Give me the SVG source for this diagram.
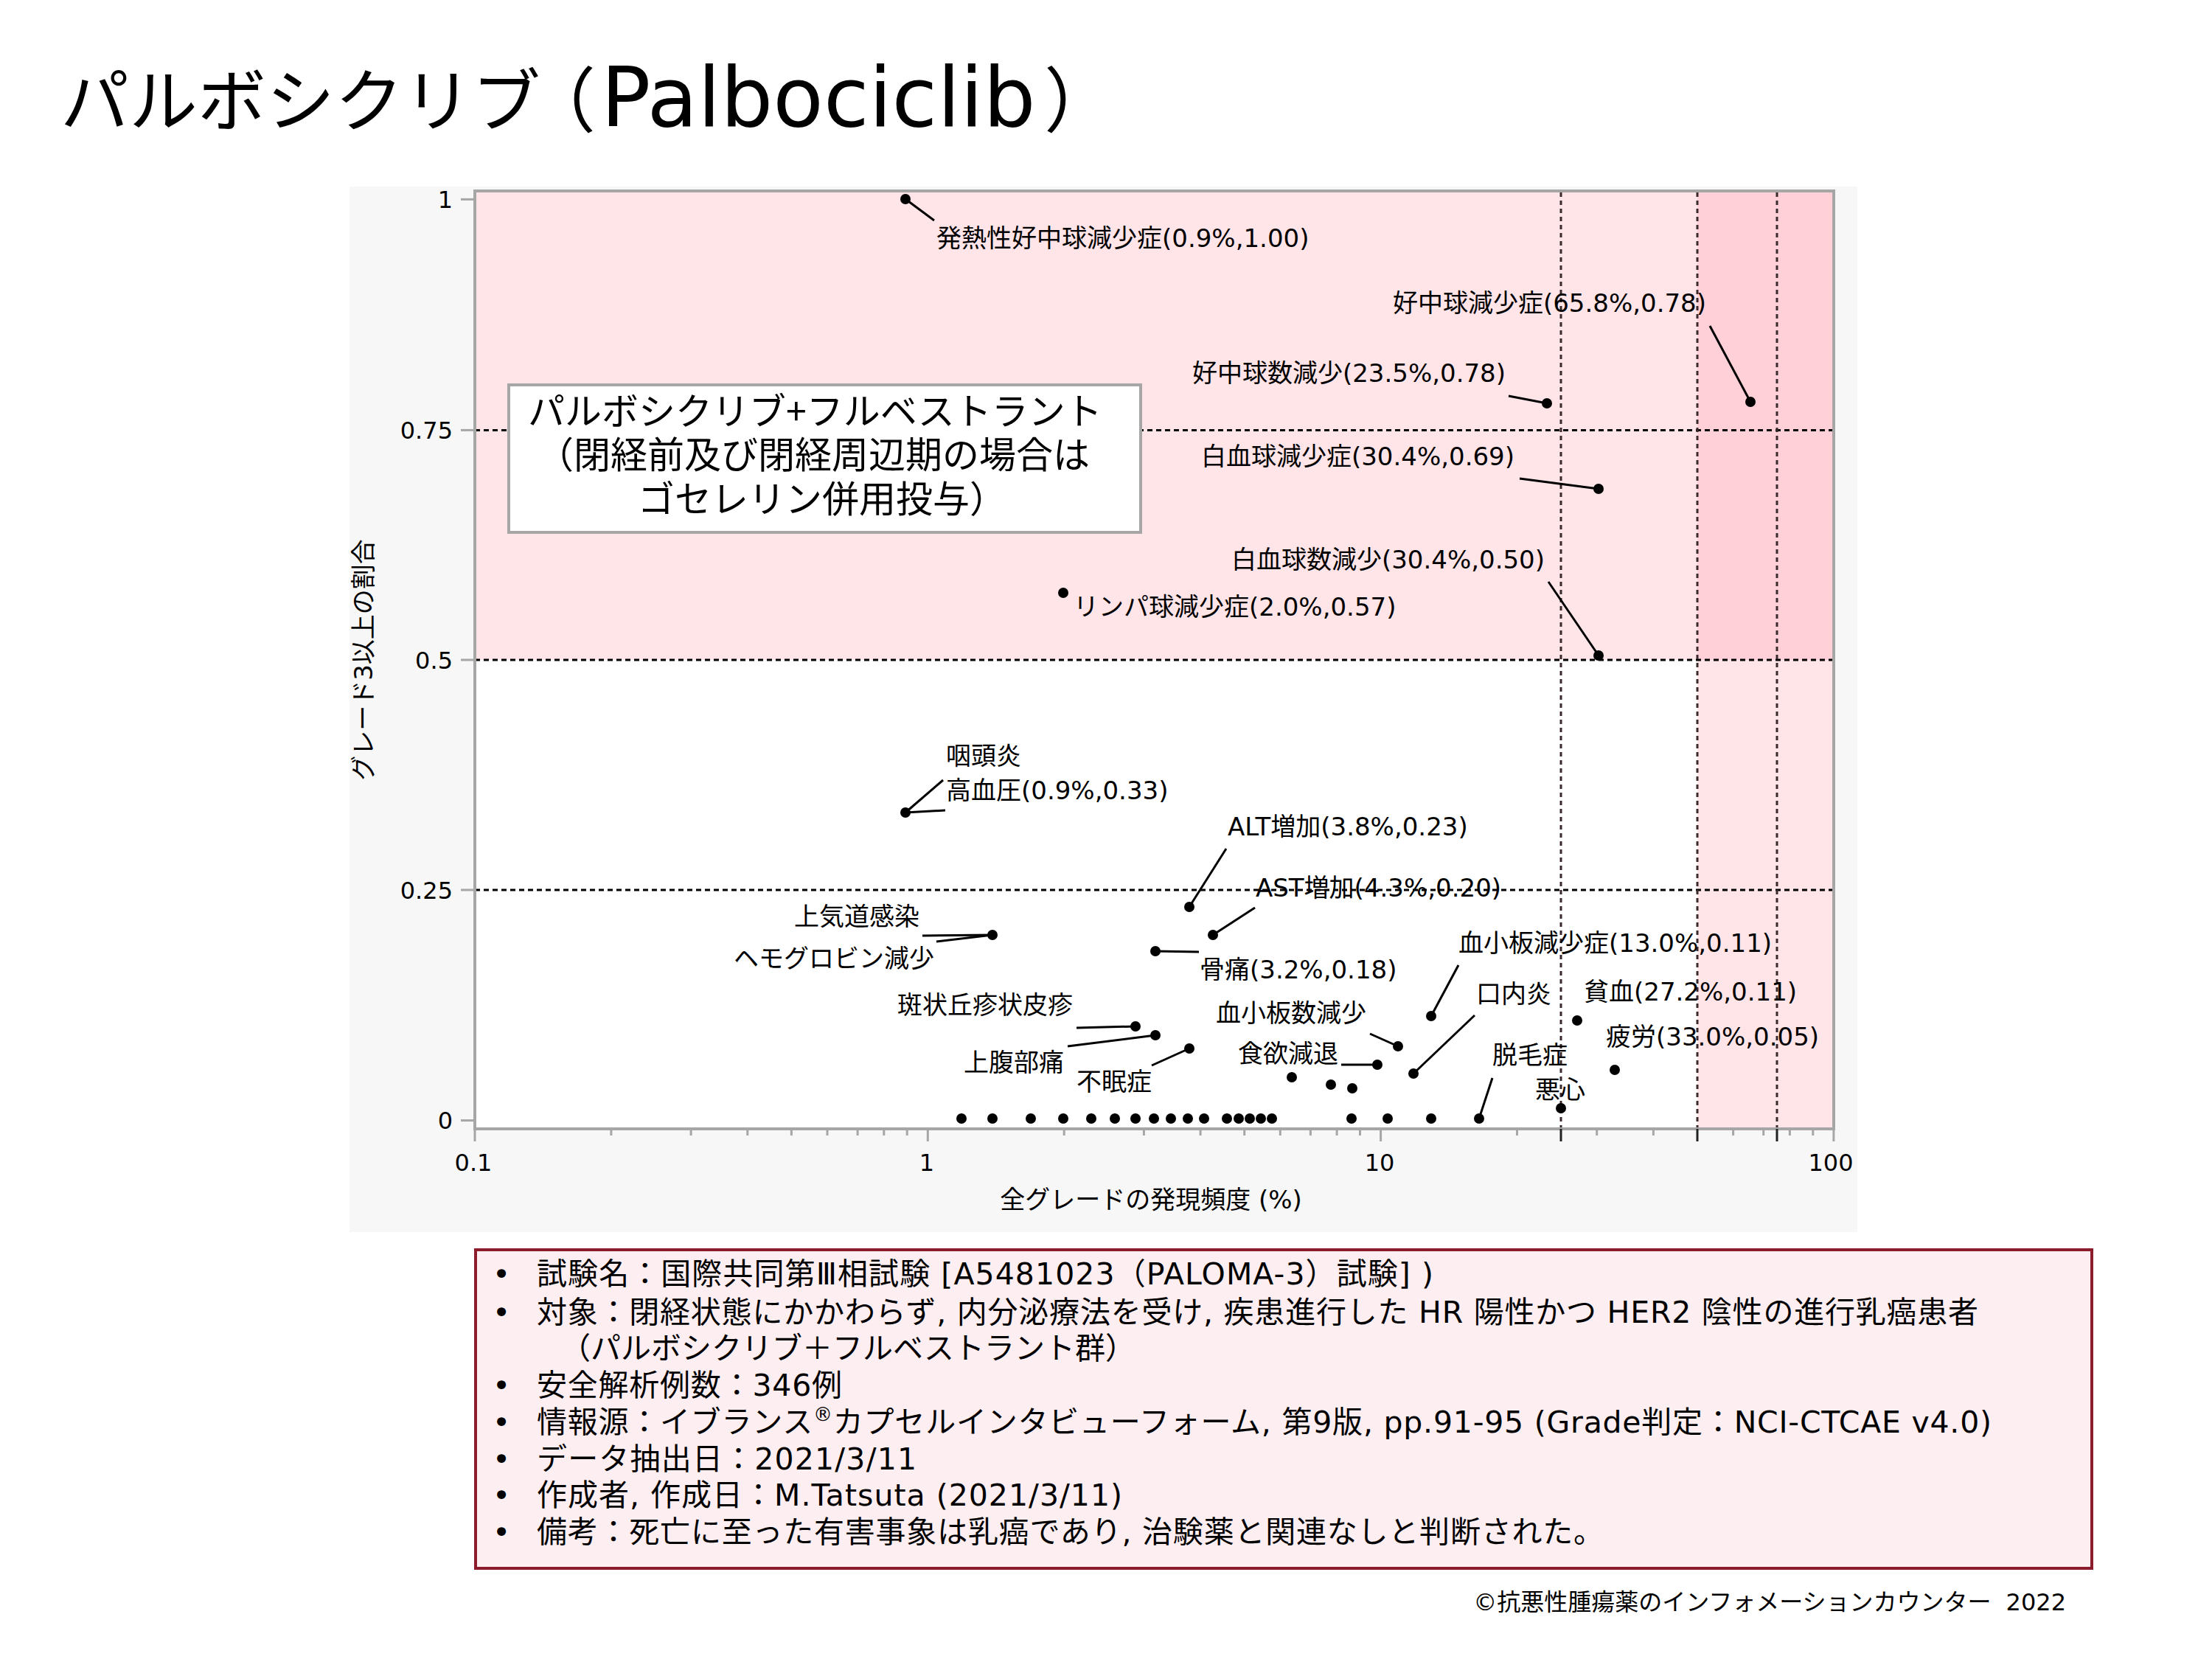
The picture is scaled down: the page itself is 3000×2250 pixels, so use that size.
<svg xmlns="http://www.w3.org/2000/svg" width="3000" height="2250" viewBox="0 0 3000 2250">
<style>
.cjk{font-family:"Noto Sans CJK JP","Noto Sans CJK SC",sans-serif;fill:#000}
.lat{font-family:"DejaVu Sans","Noto Sans CJK JP",sans-serif;fill:#000}
.lbl{font-family:"DejaVu Sans","Noto Sans CJK JP",sans-serif;font-size:34px;fill:#000}
.tick{font-family:"DejaVu Sans","Noto Sans CJK JP",sans-serif;font-size:32px;fill:#000}
.ax{font-family:"DejaVu Sans","Noto Sans CJK JP",sans-serif;font-size:34px;fill:#000}
.box{font-family:"DejaVu Sans","Noto Sans CJK JP",sans-serif;font-size:41px;fill:#000}
.ann{font-family:"Noto Sans CJK JP","DejaVu Sans",sans-serif;font-size:50px;fill:#000}
.ld{stroke:#000;stroke-width:3;fill:none}
.dot{fill:#000}
.hgrid{stroke:#000;stroke-width:3;stroke-dasharray:7 5;fill:none}
.vgrid{stroke:#3a2a2e;stroke-width:3;stroke-dasharray:6 5;fill:none}
.gt{stroke:#a6a6a6;stroke-width:3;fill:none}
.dt{stroke:#222;stroke-width:3;fill:none}
</style>

<!-- Title -->
<g id="title">
<text y="171"><tspan class="cjk" x="82" font-size="93">パルボシクリブ</tspan><tspan class="cjk" x="712" font-size="96">（</tspan><tspan class="lat" x="815" font-size="112">Palbociclib</tspan><tspan class="cjk" x="1416" font-size="96">）</tspan></text>
</g>

<!-- Chart background and plot area -->
<g id="chart-bg">
<rect x="474" y="253" width="2045" height="1418" fill="#f7f7f7"/>
<rect x="644" y="259" width="1843" height="1272" fill="#ffffff"/>
<rect x="644" y="259" width="1658" height="636" fill="#ffe4e8"/>
<rect x="2302" y="259" width="185" height="636" fill="#ffd0d8"/>
<rect x="2302" y="895" width="185" height="636" fill="#ffe4e8"/>
</g>

<!-- Grid lines -->
<g id="grid">
<line class="hgrid" x1="644" y1="583.4" x2="2487" y2="583.4"/>
<line class="hgrid" x1="644" y1="895" x2="2487" y2="895"/>
<line class="hgrid" x1="644" y1="1207" x2="2487" y2="1207"/>
<line class="vgrid" x1="2117" y1="261" x2="2117" y2="1529"/>
<line class="vgrid" x1="2302" y1="261" x2="2302" y2="1529"/>
<line class="vgrid" x1="2410" y1="261" x2="2410" y2="1529"/>
</g>

<!-- Frame and axes -->
<g id="axes">
<rect x="644" y="259" width="1843" height="1272" fill="none" stroke="#a6a6a6" stroke-width="4"/>
<line class="gt" x1="625" y1="270.4" x2="644" y2="270.4"/>
<line class="gt" x1="625" y1="583.4" x2="644" y2="583.4"/>
<line class="gt" x1="625" y1="895" x2="644" y2="895"/>
<line class="gt" x1="625" y1="1207" x2="644" y2="1207"/>
<line class="gt" x1="625" y1="1519.6" x2="644" y2="1519.6"/>
<line class="gt" x1="644" y1="1531" x2="644" y2="1548"/>
<line class="gt" x1="1258.3" y1="1531" x2="1258.3" y2="1548"/>
<line class="gt" x1="1872.6" y1="1531" x2="1872.6" y2="1548"/>
<line class="gt" x1="2486.9" y1="1531" x2="2486.9" y2="1548"/>
<path class="gt" d="M828.9 1531v9M937.1 1531v9M1013.8 1531v9M1073.4 1531v9M1122 1531v9M1163.1 1531v9M1198.8 1531v9M1230.2 1531v9M1443.2 1531v9M1551.4 1531v9M1628.1 1531v9M1687.7 1531v9M1736.3 1531v9M1777.4 1531v9M1813.1 1531v9M1844.5 1531v9M2057.5 1531v9M2165.7 1531v9M2242.4 1531v9M2350.6 1531v9M2391.7 1531v9M2427.4 1531v9M2458.8 1531v9"/>
<line class="dt" x1="2117" y1="1531" x2="2117" y2="1548"/>
<line class="dt" x1="2302" y1="1531" x2="2302" y2="1548"/>
<line class="dt" x1="2410" y1="1531" x2="2410" y2="1548"/>
<text class="tick" x="614" y="282" text-anchor="end">1</text>
<text class="tick" x="614" y="595" text-anchor="end">0.75</text>
<text class="tick" x="614" y="906.5" text-anchor="end">0.5</text>
<text class="tick" x="614" y="1218.5" text-anchor="end">0.25</text>
<text class="tick" x="614" y="1531" text-anchor="end">0</text>
<text class="tick" x="642" y="1588" text-anchor="middle">0.1</text>
<text class="tick" x="1257" y="1588" text-anchor="middle">1</text>
<text class="tick" x="1871" y="1588" text-anchor="middle">10</text>
<text class="tick" x="2483" y="1588" text-anchor="middle">100</text>
<text class="ax" x="1561" y="1639" text-anchor="middle">全グレードの発現頻度 (%)</text>
<text class="ax" transform="translate(505,895) rotate(-90)" text-anchor="middle">グレード3以上の割合</text>
</g>

<!-- Annotation box -->
<g id="regimen-box">
<rect x="690" y="522" width="857" height="200" fill="#ffffff" stroke="#a6a6a6" stroke-width="4"/>
<text class="ann"><tspan x="716" y="576">パルボシクリブ+フルベストラント</tspan><tspan x="728" y="635">（閉経前及び閉経周辺期の場合は</tspan><tspan x="865" y="695">ゴセレリン併用投与）</tspan></text>
</g>

<!-- Connectors (leader lines) -->
<g id="connectors">
<line class="ld" x1="1228" y1="270" x2="1267" y2="299"/>
<line class="ld" x1="2374" y1="545" x2="2319" y2="442"/>
<line class="ld" x1="2098" y1="547" x2="2046" y2="537"/>
<line class="ld" x1="2168" y1="663" x2="2061" y2="649"/>
<line class="ld" x1="2168" y1="889" x2="2100" y2="789"/>
<line class="ld" x1="1228" y1="1102" x2="1279" y2="1058"/>
<line class="ld" x1="1228" y1="1102" x2="1282" y2="1099"/>
<line class="ld" x1="1346" y1="1268" x2="1251" y2="1269"/>
<line class="ld" x1="1346" y1="1268" x2="1270" y2="1277"/>
<line class="ld" x1="1540" y1="1392" x2="1460" y2="1394"/>
<line class="ld" x1="1567" y1="1404" x2="1448" y2="1419"/>
<line class="ld" x1="1613" y1="1422" x2="1562" y2="1445"/>
<line class="ld" x1="1613" y1="1230" x2="1663" y2="1151"/>
<line class="ld" x1="1645" y1="1268" x2="1702" y2="1231"/>
<line class="ld" x1="1567" y1="1290" x2="1626" y2="1291"/>
<line class="ld" x1="1941" y1="1378" x2="1978" y2="1309"/>
<line class="ld" x1="1896" y1="1419" x2="1858" y2="1402"/>
<line class="ld" x1="1917" y1="1456" x2="2000" y2="1377"/>
<line class="ld" x1="1868" y1="1444" x2="1819" y2="1444"/>
<line class="ld" x1="2006" y1="1517" x2="2024" y2="1462"/>
</g>

<!-- Data points and labels -->
<g id="febrile-neutropenia"><circle class="dot" cx="1228" cy="270" r="7"/><text class="lbl" x="1270" y="335">発熱性好中球減少症(0.9%,1.00)</text></g>
<g id="neutropenia"><circle class="dot" cx="2374" cy="545" r="7"/><text class="lbl" x="2314" y="423" text-anchor="end">好中球減少症(65.8%,0.78)</text></g>
<g id="neutrophil-decrease"><circle class="dot" cx="2098" cy="547" r="7"/><text class="lbl" x="2042" y="518" text-anchor="end">好中球数減少(23.5%,0.78)</text></g>
<g id="leukopenia"><circle class="dot" cx="2168" cy="663" r="7"/><text class="lbl" x="2054" y="631" text-anchor="end">白血球減少症(30.4%,0.69)</text></g>
<g id="wbc-decrease"><circle class="dot" cx="2168" cy="889" r="7"/><text class="lbl" x="2095" y="771" text-anchor="end">白血球数減少(30.4%,0.50)</text></g>
<g id="lymphopenia"><circle class="dot" cx="1442" cy="804" r="7"/><text class="lbl" x="1456" y="835">リンパ球減少症(2.0%,0.57)</text></g>
<g id="hypertension"><circle class="dot" cx="1228" cy="1102" r="7"/><text class="lbl" x="1283" y="1037">咽頭炎</text><text class="lbl" x="1283" y="1084">高血圧(0.9%,0.33)</text></g>
<g id="alt"><circle class="dot" cx="1613" cy="1230" r="7"/><text class="lbl" x="1665" y="1133">ALT増加(3.8%,0.23)</text></g>
<g id="ast"><circle class="dot" cx="1645" cy="1268" r="7"/><text class="lbl" x="1703" y="1216">AST増加(4.3%,0.20)</text></g>
<g id="uri-hemoglobin"><circle class="dot" cx="1346" cy="1268" r="7"/><text class="lbl" x="1247" y="1255" text-anchor="end">上気道感染</text><text class="lbl" x="1267" y="1312" text-anchor="end">ヘモグロビン減少</text></g>
<g id="bone-pain"><circle class="dot" cx="1567" cy="1290" r="7"/><text class="lbl" x="1627" y="1327">骨痛(3.2%,0.18)</text></g>
<g id="thrombocytopenia"><circle class="dot" cx="1941" cy="1378" r="7"/><text class="lbl" x="1978" y="1291">血小板減少症(13.0%,0.11)</text></g>
<g id="rash"><circle class="dot" cx="1540" cy="1392" r="7"/><text class="lbl" x="1455" y="1375" text-anchor="end">斑状丘疹状皮疹</text></g>
<g id="stomatitis"><circle class="dot" cx="1917" cy="1456" r="7"/><text class="lbl" x="2002" y="1360">口内炎</text></g>
<g id="anemia"><circle class="dot" cx="2139" cy="1384" r="7"/><text class="lbl" x="2148" y="1357">貧血(27.2%,0.11)</text></g>
<g id="platelet-decrease"><circle class="dot" cx="1896" cy="1419" r="7"/><text class="lbl" x="1853" y="1386" text-anchor="end">血小板数減少</text></g>
<g id="abdominal-pain"><circle class="dot" cx="1567" cy="1404" r="7"/><text class="lbl" x="1443" y="1453" text-anchor="end">上腹部痛</text></g>
<g id="appetite"><circle class="dot" cx="1868" cy="1444" r="7"/><text class="lbl" x="1815" y="1441" text-anchor="end">食欲減退</text></g>
<g id="insomnia"><circle class="dot" cx="1613" cy="1422" r="7"/><text class="lbl" x="1460" y="1479">不眠症</text></g>
<g id="fatigue"><circle class="dot" cx="2190" cy="1451" r="7"/><text class="lbl" x="2178" y="1418">疲労(33.0%,0.05)</text></g>
<g id="alopecia"><circle class="dot" cx="2006" cy="1517" r="7"/><text class="lbl" x="2024" y="1443">脱毛症</text></g>
<g id="nausea"><circle class="dot" cx="2117" cy="1503" r="7"/><text class="lbl" x="2082" y="1490">悪心</text></g>
<g id="other-points">
<circle class="dot" cx="1752" cy="1461" r="7"/>
<circle class="dot" cx="1805" cy="1471" r="7"/>
<circle class="dot" cx="1834" cy="1476" r="7"/>
<circle class="dot" cx="1304" cy="1517" r="7"/>
<circle class="dot" cx="1346" cy="1517" r="7"/>
<circle class="dot" cx="1398" cy="1517" r="7"/>
<circle class="dot" cx="1442" cy="1517" r="7"/>
<circle class="dot" cx="1480" cy="1517" r="7"/>
<circle class="dot" cx="1512" cy="1517" r="7"/>
<circle class="dot" cx="1540" cy="1517" r="7"/>
<circle class="dot" cx="1565" cy="1517" r="7"/>
<circle class="dot" cx="1588" cy="1517" r="7"/>
<circle class="dot" cx="1611" cy="1517" r="7"/>
<circle class="dot" cx="1633" cy="1517" r="7"/>
<circle class="dot" cx="1664" cy="1517" r="7"/>
<circle class="dot" cx="1680" cy="1517" r="7"/>
<circle class="dot" cx="1695" cy="1517" r="7"/>
<circle class="dot" cx="1710" cy="1517" r="7"/>
<circle class="dot" cx="1725" cy="1517" r="7"/>
<circle class="dot" cx="1833" cy="1517" r="7"/>
<circle class="dot" cx="1882" cy="1517" r="7"/>
<circle class="dot" cx="1941" cy="1517" r="7"/>
</g>

<!-- Info box -->
<g id="info-box">
<rect x="645" y="1695" width="2192" height="432" fill="#fdeef1" stroke="#8c1c2c" stroke-width="4"/>
<g class="box">
<text x="680" y="1742" text-anchor="middle">•</text>
<text x="680" y="1794" text-anchor="middle">•</text>
<text x="680" y="1893" text-anchor="middle">•</text>
<text x="680" y="1943" text-anchor="middle">•</text>
<text x="680" y="1993" text-anchor="middle">•</text>
<text x="680" y="2042" text-anchor="middle">•</text>
<text x="680" y="2092" text-anchor="middle">•</text>
</g>
<text class="box" x="728" y="1742" textLength="1216">試験名：国際共同第Ⅲ相試験 [A5481023（PALOMA-3）試験] )</text>
<text class="box" x="728" y="1794" textLength="1955">対象：閉経状態にかかわらず, 内分泌療法を受け, 疾患進行した HR 陽性かつ HER2 陰性の進行乳癌患者</text>
<text class="box" x="760" y="1843" textLength="780">（パルボシクリブ＋フルベストラント群）</text>
<text class="box" x="728" y="1893" textLength="414">安全解析例数：346例</text>
<text class="box" x="728" y="1943" textLength="1973">情報源：イブランス<tspan font-size="26" dy="-16">®</tspan><tspan dy="16">カプセルインタビューフォーム, 第9版, pp.91-95 (Grade判定：NCI-CTCAE v4.0)</tspan></text>
<text class="box" x="728" y="1993" textLength="515">データ抽出日：2021/3/11</text>
<text class="box" x="728" y="2042" textLength="794">作成者, 作成日：M.Tatsuta (2021/3/11)</text>
<text class="box" x="728" y="2092" textLength="1447">備考：死亡に至った有害事象は乳癌であり, 治験薬と関連なしと判断された。</text>
</g>

<g id="copyright">
<text class="lat" x="2802" y="2184" font-size="32" text-anchor="end">©抗悪性腫瘍薬のインフォメーションカウンター<tspan dx="20">2022</tspan></text>
</g>
</svg>
